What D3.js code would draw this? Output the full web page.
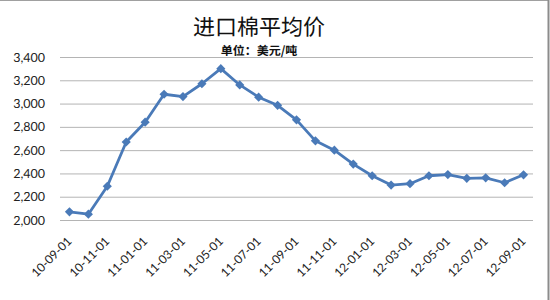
<!DOCTYPE html>
<html>
<head>
<meta charset="utf-8">
<script src="https://cdnjs.cloudflare.com/ajax/libs/d3/7.8.5/d3.min.js"></script>
<style>
    body { margin: 0; background: #fff; }
    svg { display: block; }
    text { text-rendering: geometricPrecision; }
</style>
</head>
<body>
<svg id="chart" width="550" height="300"></svg>
<script>
// 月份 (每月一筆)
const months = ["10-09-01", "10-10-01", "10-11-01", "10-12-01", "11-01-01", "11-02-01", "11-03-01",
    "11-04-01", "11-05-01", "11-06-01", "11-07-01", "11-08-01", "11-09-01", "11-10-01", "11-11-01",
    "11-12-01", "12-01-01", "12-02-01", "12-03-01", "12-04-01", "12-05-01", "12-06-01", "12-07-01",
    "12-08-01", "12-09-01"];

// 進口棉平均價 (美元/噸)
const prices = [2070, 2050, 2290, 2670, 2840, 3080, 3060, 3170, 3300, 3160, 3055, 2985, 2860,
    2680, 2600, 2480, 2380, 2300, 2312, 2380, 2390, 2358, 2362, 2320, 2388];

// 顯示的X軸標籤 (每兩個月)
const xTickLabels = months.filter((d, i) => i % 2 === 0);
const yTicks = [2000, 2200, 2400, 2600, 2800, 3000, 3200, 3400];

const title = "进口棉平均价";
const subTitle = "单位：美元/吨";

const svg = d3.select("#chart");
const margin = {top: 57, right: 17, bottom: 80, left: 60};
const width = 550 - margin.left - margin.right;
const height = 300 - margin.top - margin.bottom;

// 外框 (上、右)
svg.append("line").attr("x1", 0).attr("x2", 548).attr("y1", 0.5).attr("y2", 0.5)
    .attr("stroke", "#a0a0a0");
svg.append("line").attr("x1", 548.5).attr("x2", 548.5).attr("y1", 0).attr("y2", 300)
    .attr("stroke", "#8c8c8c").attr("stroke-width", 2);

const x = d3.scaleBand().domain(months).range([0, width]);
const y = d3.scaleLinear().domain([2000, 3400]).range([height, 0]);

const g = svg.append("g").attr("transform", `translate(${margin.left},${margin.top})`);

//格線
g.append("g")
    .call(d3.axisLeft(y).tickValues(yTicks).tickSize(-width).tickFormat(d3.format(",")))
    .call(s => s.select(".domain").remove())
    .call(s => s.selectAll(".tick line").attr("stroke", "#b4b4b4"))
    .call(s => s.selectAll(".tick text").attr("x", -15)
        .style("font-family", "Lato, 'Open Sans', sans-serif").style("font-size", "12.5px").attr("fill", "#222"));

//X軸 (旋轉文字，透明度避免彩色反鋸齒)
g.append("g")
    .attr("transform", `translate(0,${height})`)
    .style("opacity", 0.99)
    .call(d3.axisBottom(x).tickValues(xTickLabels).tickSize(0))
    .call(s => s.select(".domain").remove())
    .call(s => s.selectAll(".tick text")
        .attr("y", 0).attr("dy", 0)
        .attr("transform", "translate(3,22) rotate(-45)")
        .style("text-anchor", "end")
        .style("font-family", "Lato, 'Open Sans', sans-serif").style("font-size", "12px").attr("fill", "#222"));

const cx = d => x(d) + x.bandwidth() / 2;

//折線
g.append("path")
    .datum(prices)
    .attr("fill", "none")
    .attr("stroke", "#4a7ab8")
    .attr("stroke-width", 2.8)
    .attr("stroke-linejoin", "round")
    .attr("d", d3.line().x((d, i) => cx(months[i])).y(d => y(d)));

//菱形標記
g.append("g")
    .selectAll("path")
    .data(prices)
    .enter().append("path")
    .attr("transform", (d, i) => `translate(${cx(months[i])},${y(d)}) rotate(45)`)
    .attr("d", d3.symbol().type(d3.symbolSquare).size(42))
    .attr("fill", "#4a7ab8");

//標題
svg.append("text")
    .attr("x", 259).attr("y", 35)
    .attr("text-anchor", "middle")
    .style("font-family", "'Noto Sans CJK SC', sans-serif")
    .style("font-size", "22px")
    .attr("fill", "#111")
    .text(title);

svg.append("text")
    .attr("x", 259).attr("y", 55)
    .attr("text-anchor", "middle")
    .style("font-family", "'Noto Sans CJK SC', sans-serif")
    .style("font-size", "12px")
    .style("font-weight", "bold")
    .attr("fill", "#111")
    .text(subTitle);
</script>
</body>
</html>
